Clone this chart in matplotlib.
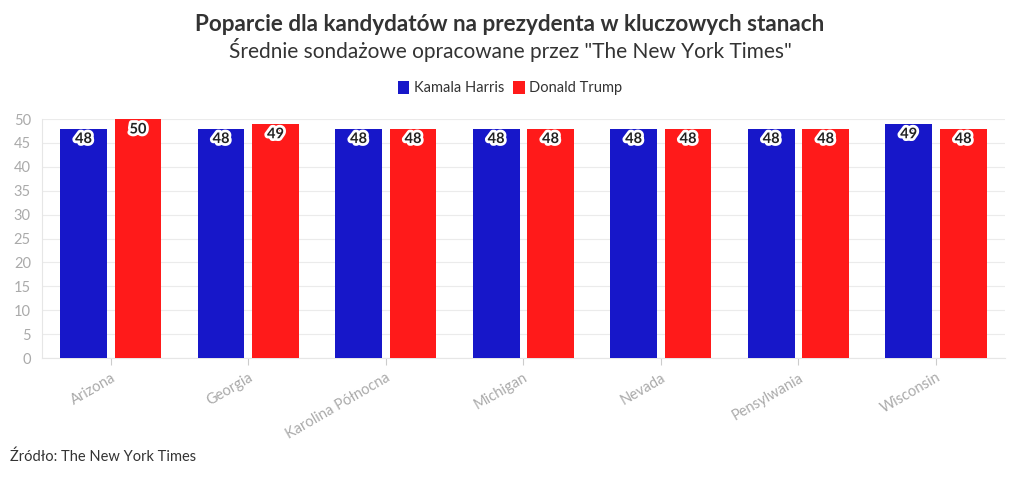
import matplotlib.pyplot as plt
import matplotlib.patheffects as pe
import numpy as np

plt.rcParams['font.family'] = ['Lato', 'DejaVu Sans']

states = ["Arizona", "Georgia", "Karolina Północna", "Michigan", "Nevada", "Pensylwania", "Wisconsin"]
harris = [48, 48, 48, 48, 48, 48, 49]
trump = [50, 49, 48, 48, 48, 48, 48]
y_ticks = [0, 5, 10, 15, 20, 25, 30, 35, 40, 45, 50]

blue = "#1717c9"
red = "#ff1a1a"
grey = "#aaaaaa"

fig = plt.figure(figsize=(10.2, 4.8), dpi=100)
ax = fig.add_axes([0.0412, 0.254, 0.9438, 0.498])

x = np.arange(len(states))
w = 0.34
off = 0.198
b1 = ax.bar(x - off, harris, w, color=blue, label="Kamala Harris", zorder=3)
b2 = ax.bar(x + off, trump, w, color=red, label="Donald Trump", zorder=3)

for bars, vals in ((b1, harris), (b2, trump)):
    for r, v in zip(bars, vals):
        ax.annotate(str(v), (r.get_x() + r.get_width() / 2, v), xytext=(0, -7.5),
                    textcoords="offset points", ha="center", va="center",
                    fontsize=10.5, fontweight="bold", color="#222222", zorder=5,
                    path_effects=[pe.withStroke(linewidth=4, foreground="white")])

ax.set_xlim(-0.5, len(states) - 0.5)
ax.set_ylim(0, 50)
ax.set_yticks(y_ticks)
ax.set_xticks(x)
ax.set_xticklabels(states, rotation=30, ha="right", rotation_mode="anchor")
ax.tick_params(axis="x", colors="#cccccc", labelcolor=grey, labelsize=10.5, length=5, pad=4)
ax.tick_params(axis="y", length=0, labelcolor=grey, labelsize=10.5, pad=8)
ax.grid(axis="y", color="#ebebeb", linewidth=0.8, zorder=0)
for s in ("top", "right"):
    ax.spines[s].set_visible(False)
for s in ("left", "bottom"):
    ax.spines[s].set_color("#e6e6e6")
    ax.spines[s].set_linewidth(0.8)

fig.text(0.5, 0.948, "Poparcie dla kandydatów na prezydenta w kluczowych stanach",
         ha="center", va="center", fontsize=16.2, fontweight="bold", color="#333333")
fig.text(0.5, 0.895, 'Średnie sondażowe opracowane przez "The New York Times"',
         ha="center", va="center", fontsize=15, color="#333333")

leg = fig.legend(loc="center", bbox_to_anchor=(0.5, 0.817), ncol=2, frameon=False,
                 fontsize=10.5, handlelength=0.8, handleheight=1.0, handletextpad=0.3,
                 columnspacing=0.6, labelcolor="#333333")

fig.text(0.01, 0.048, "Źródło: The New York Times", ha="left", va="center",
         fontsize=10.5, color="#333333")

fig.savefig("out.png", dpi=100)
